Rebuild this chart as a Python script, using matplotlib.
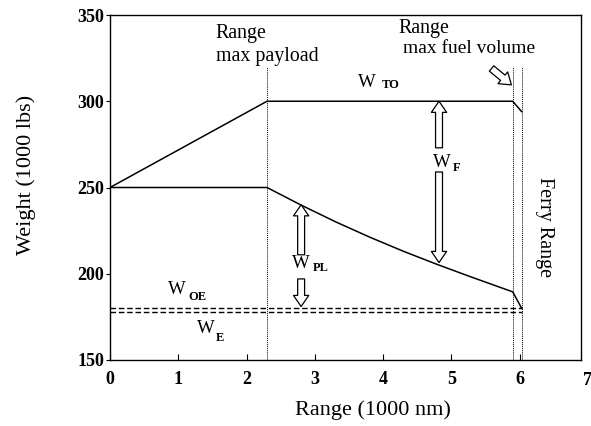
import matplotlib
matplotlib.use("Agg")
import matplotlib.pyplot as plt

plt.rcParams['font.family'] = ['Liberation Serif', 'DejaVu Serif']

# take-off weight line (1000 nm, 1000 lbs)
wto_x = [0, 2.3, 5.9, 6.03]
wto_y = [250, 300, 300, 294]

# landing weight line (empty + payload)
wland_x = [0, 2.3, 2.8, 3.3, 3.8, 4.3, 4.8, 5.3, 5.9, 6.03]
wland_y = [250, 250, 239.8, 230.2, 221.3, 213.0, 205.3, 198.0, 189.5, 180]

# operating empty / empty weights
w_oe = 180
w_e = 178

# special ranges
r_max_payload = 2.3
r_max_fuel = 5.9
r_ferry = 6.03

xticks = [0, 1, 2, 3, 4, 5, 6]
yticks = [150, 200, 250, 300, 350]

fig = plt.figure(figsize=(5.91, 4.26), dpi=100)
ax = fig.add_axes([110 / 591, 1 - 360 / 426, 471 / 591, 345 / 426])

ax.plot(wto_x, wto_y, color='black', lw=1.1)
ax.plot(wland_x, wland_y, color='black', lw=1.1)
ax.plot([0, r_ferry], [w_oe, w_oe], color='black', lw=1.0, ls=(0, (4, 2)))
ax.plot([0, r_ferry], [w_e, w_e], color='black', lw=1.0, ls=(0, (4, 2)))

for xv in (r_max_payload, r_max_fuel, r_ferry):
    ax.plot([xv, xv], [150, 320], color='black', lw=0.7, ls=(0, (1, 1)))


def block_arrow(tail, tip):
    ax.annotate('', xy=tip, xytext=tail,
                arrowprops=dict(arrowstyle='simple,head_length=0.8,head_width=1.1,tail_width=0.5',
                                mutation_scale=10, fc='white', ec='black', lw=0.9,
                                shrinkA=0, shrinkB=0))


block_arrow((2.8, 211), (2.8, 240))
block_arrow((2.8, 197), (2.8, 181))
block_arrow((4.82, 273), (4.82, 300))
block_arrow((4.82, 259), (4.82, 206.5))
block_arrow((5.59, 319), (5.88, 309.5))


def weight_label(x, y, sub, dx, dy):
    ax.text(x, y, 'W', fontsize=13.5, ha='left', va='center')
    ax.annotate(sub, xy=(x, y), xytext=(dx, dy), textcoords='offset points',
                fontsize=9, fontweight='bold', ha='left', va='center')


weight_label(3.63, 311, 'TO', 17, -2)
weight_label(0.85, 190.7, 'OE', 14.5, -5)
weight_label(1.27, 168, 'E', 13.5, -6.5)
weight_label(2.67, 205.8, 'PL', 15, -3)
weight_label(4.73, 264.7, 'F', 14.5, -4)

ax.text(1.55, 339.5, 'Range', fontsize=14.3, ha='left', va='center')
ax.text(1.56, 326.2, 'max payload', fontsize=14.3, ha='left', va='center')
ax.text(4.22, 341.9, 'Range', fontsize=14.3, ha='left', va='center')
ax.text(4.29, 330.3, 'max fuel volume', fontsize=14, ha='left', va='center')
ax.text(6.37, 227, 'Ferry Range', fontsize=14.5, rotation=270,
        ha='center', va='center')

ax.set_xlim(0, 6.9)
ax.set_ylim(150, 350)
ax.set_xticks(xticks)
ax.set_yticks(yticks)
ax.tick_params(axis='x', direction='in', length=4, pad=8, labelsize=13)
ax.tick_params(axis='y', direction='out', length=3, pad=1, labelsize=13)
for lab in ax.get_xticklabels() + ax.get_yticklabels():
    lab.set_fontweight('bold')
# the 7 tick sits just past the right frame in the original
ax.text(7, 150 - 12 / 1.725, '7', fontsize=13, fontweight='bold',
        ha='center', va='top', clip_on=False)

for side in ('left', 'bottom', 'top', 'right'):
    ax.spines[side].set_linewidth(1.0)

ax.set_xlabel('Range (1000 nm)', fontsize=16)
ax.set_ylabel('Weight (1000 lbs)', fontsize=16)
ax.xaxis.set_label_coords(0.558, -0.118)
ax.yaxis.set_label_coords(-0.158, 0.536)

fig.savefig('out.png', dpi=100)
